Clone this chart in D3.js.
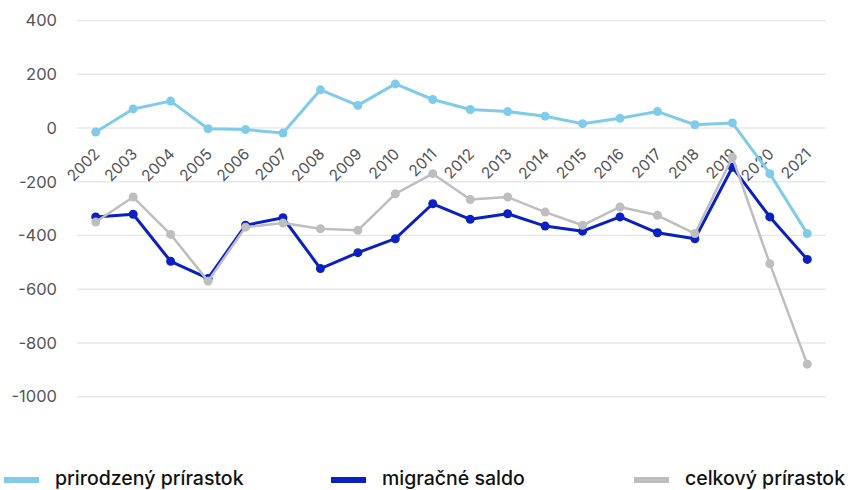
<!DOCTYPE html>
<html>
<head>
<meta charset="utf-8">
<script src="https://cdn.jsdelivr.net/npm/d3@7"></script>
<style>
  html, body { margin: 0; padding: 0; background: #ffffff; }
  svg { display: block; }
</style>
</head>
<body>
<svg id="chart" width="851" height="490"></svg>
<script>
const years = ["2002","2003","2004","2005","2006","2007","2008","2009","2010","2011","2012","2013","2014","2015","2016","2017","2018","2019","2020","2021"];
const natural = [-15, 71, 100, -3, -6, -19, 142, 84, 164, 106, 69, 61, 44, 16, 36, 61, 12, 19, -170, -393];
const migration = [-331, -321, -496, -560, -362, -334, -523, -464, -412, -282, -340, -319, -365, -384, -331, -390, -412, -146, -331, -489];
const total = [-350, -257, -396, -570, -369, -354, -375, -381, -245, -170, -266, -257, -313, -362, -294, -325, -393, -109, -505, -879];
const yTicks = [400, 200, 0, -200, -400, -600, -800, -1000];
const seriesNames = ["prirodzený prírastok", "migračné saldo", "celkový prírastok"];

(function () {
const colors = { natural: "#80cbea", migration: "#0b20c2", total: "#bebebe" };
const font = "Inter, 'Liberation Sans', sans-serif";

const svg = d3.select("#chart");
const mLeft = 77, mRight = 826, mTop = 20.5, mBottom = 396.7;

const x = d3.scaleBand().domain(years).range([mLeft, mRight]);
const xc = d => x(d) + x.bandwidth() / 2;
const y = d3.scaleLinear().domain([-1000, 400]).range([mBottom, mTop]);

// gridlines
svg.append("g").selectAll("line").data(yTicks).join("line")
  .attr("x1", mLeft).attr("x2", mRight)
  .attr("y1", d => y(d)).attr("y2", d => y(d))
  .attr("stroke", "#e8e8e8").attr("stroke-width", 1.5);

// y axis labels
const yAxis = d3.axisLeft(y).tickValues(yTicks).tickSize(0).tickPadding(0)
  .tickFormat(d => String(d));
const yg = svg.append("g").attr("transform", `translate(57,0)`).call(yAxis);
yg.select(".domain").remove();
yg.selectAll("text")
  .attr("font-family", font)
  .attr("font-size", 16.5).attr("fill", "#555");

// x labels (rotated)
svg.append("g").selectAll("text").data(years).join("text")
  .attr("transform", d => `translate(${xc(d) + 5},${y(0) + 27}) rotate(-45)`)
  .attr("text-anchor", "end")
  .attr("font-family", font)
  .attr("font-size", 15.5).attr("fill", "#555")
  .text(d => d);

const line = d3.line().x((d, i) => xc(years[i])).y(d => y(d));

function drawSeries(vals, color, width, r) {
  svg.append("path").datum(vals)
    .attr("d", line).attr("fill", "none")
    .attr("stroke", color).attr("stroke-width", width)
    .attr("stroke-linejoin", "round");
  svg.append("g").selectAll("circle").data(vals).join("circle")
    .attr("cx", (d, i) => xc(years[i])).attr("cy", d => y(d))
    .attr("r", r).attr("fill", color);
}

drawSeries(migration, colors.migration, 3, 4.5);
drawSeries(total, colors.total, 2.5, 4.5);
drawSeries(natural, colors.natural, 3, 4.5);

// legend
const legendX = [4, 331, 634];
const legendColors = [colors.natural, colors.migration, colors.total];
const lg = svg.append("g");
seriesNames.forEach((name, i) => {
  lg.append("rect").attr("x", legendX[i]).attr("y", 477).attr("width", 35).attr("height", 6)
    .attr("fill", legendColors[i]);
  lg.append("text").attr("x", legendX[i] + 51).attr("y", 484.5)
    .attr("font-family", font)
    .attr("font-size", 19.5).attr("font-weight", 500).attr("fill", "#111")
    .text(name);
});
})();
</script>
</body>
</html>
